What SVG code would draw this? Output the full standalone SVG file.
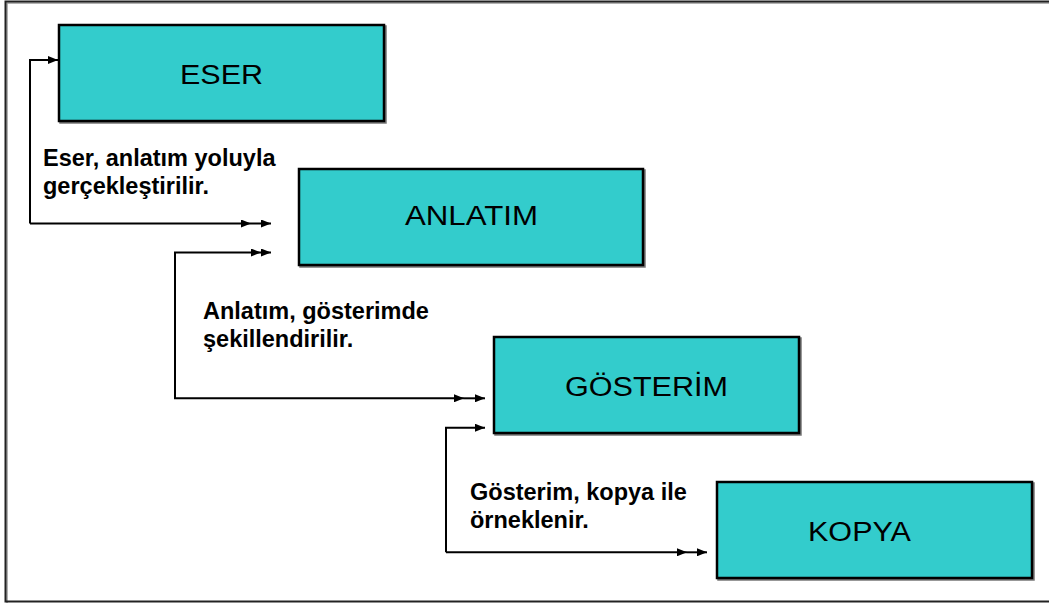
<svg xmlns="http://www.w3.org/2000/svg" width="1049" height="605" viewBox="0 0 1049 605">
  <style>
    .box{fill:#33CCCC;stroke:#000;stroke-width:2.5}
    .shadow{fill:none;stroke:#777;stroke-width:2.5}
    .lbl{font-family:"Liberation Sans",Arial,sans-serif;font-size:27px;fill:#000;text-anchor:middle}
    .note{font-family:"Liberation Sans",Arial,sans-serif;font-size:23.5px;font-weight:bold;fill:#000}
    .con{fill:none;stroke:#000;stroke-width:2;marker-end:url(#ah)}
    .frame{fill:none;stroke:#222;stroke-width:2}
  </style>
  <defs>
    <marker id="ah" viewBox="0 0 10 8" refX="10" refY="4" markerWidth="10" markerHeight="8" markerUnits="userSpaceOnUse" orient="auto">
      <path d="M0,0 L10,4 L0,8 z" fill="#000"/>
    </marker>
  </defs>
  <rect width="1049" height="605" fill="#fff"/>
  <path d="M1060,3 H7 V603" fill="none" stroke="#999" stroke-width="1.5"/>
  <path class="frame" d="M1060,1.5 H5.5 V601.5 H1060"/>

  <g id="connectors">
    <path class="con" d="M30,223.5 V60 H58"/>
    <path class="con" d="M30,223.5 H251"/>
    <path class="con" d="M251,223.5 H271"/>
    <path class="con" d="M175,398.3 V252.5 H261"/>
    <path class="con" d="M261,252.5 H271"/>
    <path class="con" d="M175,252.5 V398.3 H464"/>
    <path class="con" d="M464,398.3 H485"/>
    <path class="con" d="M446,552.3 V427.7 H485"/>
    <path class="con" d="M446,552.3 H687"/>
    <path class="con" d="M687,552.3 H707"/>
  </g>

  <g id="eser">
    <rect class="shadow" x="60.5" y="26.5" width="325" height="96"/>
    <rect class="box" x="59" y="25" width="325" height="96"/>
    <text class="lbl" x="221.5" y="84" textLength="83" lengthAdjust="spacingAndGlyphs">ESER</text>
  </g>
  <g id="anlatim">
    <rect class="shadow" x="300.5" y="170.5" width="344" height="96"/>
    <rect class="box" x="299" y="169" width="344" height="96"/>
    <text class="lbl" x="471.5" y="224.5" textLength="133" lengthAdjust="spacingAndGlyphs">ANLATIM</text>
  </g>
  <g id="gosterim">
    <rect class="shadow" x="495.5" y="338.5" width="305" height="96"/>
    <rect class="box" x="494" y="337" width="305" height="96"/>
    <text class="lbl" x="646.5" y="396" textLength="163" lengthAdjust="spacingAndGlyphs">GÖSTERİM</text>
  </g>
  <g id="kopya">
    <rect class="shadow" x="718.5" y="483.5" width="315" height="96"/>
    <rect class="box" x="717" y="482" width="315" height="96"/>
    <text class="lbl" x="859.5" y="541" textLength="103" lengthAdjust="spacingAndGlyphs">KOPYA</text>
  </g>

  <g id="labels">
    <text class="note" x="43" y="166">Eser, anlatım yoluyla</text>
    <text class="note" x="43" y="194">gerçekleştirilir.</text>
    <text class="note" x="203" y="319">Anlatım, gösterimde</text>
    <text class="note" x="203" y="347">şekillendirilir.</text>
    <text class="note" x="470" y="500">Gösterim, kopya ile</text>
    <text class="note" x="470" y="528">örneklenir.</text>
  </g>
</svg>
